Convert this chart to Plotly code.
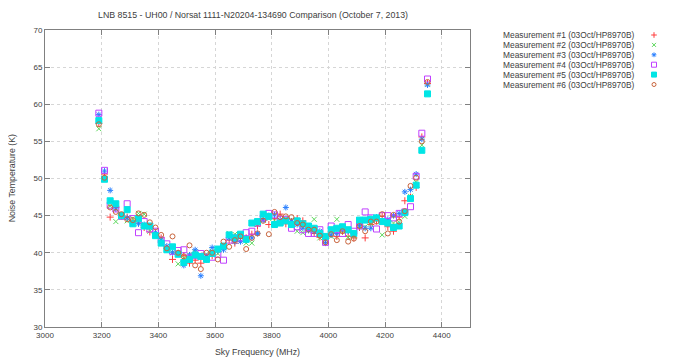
import plotly.graph_objects as go

freq_mhz = [3190, 3210, 3230, 3250, 3270, 3290, 3310, 3330, 3350, 3370,
            3390, 3410, 3430, 3450, 3470, 3490, 3510, 3530, 3550, 3570,
            3590, 3610, 3630, 3650, 3670, 3690, 3710, 3730, 3750, 3770,
            3790, 3810, 3830, 3850, 3870, 3890, 3910, 3930, 3950, 3970,
            3990, 4010, 4030, 4050, 4070, 4090, 4110, 4130, 4150, 4170,
            4190, 4210, 4230, 4250, 4270, 4290, 4310, 4330, 4350]

meas1 = [57.4, 50.6, 44.8, 46.1, 45.0, 44.8, 44.3, 44.0, 43.4, 42.8,
         42.7, 42.0, 40.6, 39.1, 39.9, 39.6, 38.6, 39.0, 38.6, 39.1,
         39.6, 40.2, 40.8, 41.7, 41.3, 41.9, 42.0, 42.5, 43.6, 44.6,
         43.8, 44.6, 45.2, 43.9, 44.2, 44.6, 44.3, 43.2, 42.6, 42.1,
         41.4, 42.8, 42.2, 42.9, 42.2, 42.0, 43.4, 42.0, 43.8, 44.3,
         44.9, 43.5, 42.9, 44.8, 47.0, 47.5, 48.8, 55.6, 62.8]
meas2 = [56.7, 50.0, 46.3, 44.2, 45.1, 44.3, 44.6, 45.3, 45.2, 42.9,
         42.4, 41.8, 40.6, 40.0, 38.5, 39.3, 39.7, 40.1, 39.4, 39.8,
         40.2, 39.9, 40.7, 42.6, 42.5, 42.2, 41.3, 41.3, 43.8, 44.4,
         44.6, 44.3, 44.4, 44.6, 44.4, 42.9, 42.7, 43.3, 44.5, 42.0,
         41.8, 42.2, 44.5, 42.9, 42.1, 42.2, 43.5, 43.5, 43.9, 44.5,
         42.4, 44.0, 44.0, 44.1, 44.9, 47.6, 49.5, 54.5, 62.7]
meas3 = [58.6, 51.0, 48.4, 45.9, 44.9, 44.7, 43.9, 43.9, 43.8, 43.5,
         42.7, 41.7, 40.9, 40.0, 40.0, 38.3, 39.7, 40.4, 36.9, 39.5,
         40.7, 40.3, 40.4, 42.0, 41.5, 41.5, 42.0, 42.0, 42.6, 44.4,
         45.0, 45.1, 44.4, 46.1, 44.2, 43.8, 43.3, 43.0, 42.9, 42.9,
         41.3, 42.4, 42.6, 43.2, 42.9, 42.5, 43.7, 43.3, 43.3, 44.8,
         44.3, 44.5, 45.0, 45.3, 48.2, 48.5, 50.6, 55.3, 62.6]
meas4 = [58.8, 51.1, 46.4, 45.9, 44.9, 46.6, 44.6, 42.7, 44.2, 43.2,
         42.9, 41.7, 41.2, 40.2, 40.3, 40.4, 39.3, 39.6, 39.9, 39.4,
         39.4, 39.8, 39.0, 41.7, 42.0, 42.0, 42.7, 42.9, 44.0, 44.7,
         45.3, 45.1, 44.5, 44.5, 43.3, 43.5, 43.1, 42.6, 42.6, 43.1,
         41.4, 43.6, 43.1, 42.6, 43.8, 42.9, 43.6, 45.5, 44.7, 43.2,
         45.0, 45.0, 44.7, 45.3, 45.5, 46.2, 50.3, 56.1, 63.4]
meas5 = [57.8, 49.9, 47.0, 46.6, 45.0, 45.8, 43.9, 44.6, 43.6, 43.6,
         42.3, 41.3, 40.4, 40.8, 39.8, 38.7, 39.1, 39.7, 39.5, 39.1,
         39.9, 40.5, 40.9, 42.4, 42.0, 42.5, 41.8, 44.0, 44.2, 45.2,
         44.9, 43.8, 44.0, 44.3, 43.8, 44.3, 43.9, 43.6, 43.3, 42.6,
         42.2, 43.1, 43.3, 43.5, 43.1, 42.6, 44.4, 44.4, 44.5, 44.7,
         44.2, 44.0, 43.4, 43.6, 45.4, 47.3, 49.1, 53.8, 61.4]
meas6 = [57.3, 50.1, 46.1, 45.5, 45.2, 44.5, 44.4, 45.3, 45.1, 44.1,
         43.4, 42.4, 40.6, 42.2, 40.0, 39.5, 41.0, 38.3, 37.8, 40.0,
         40.0, 39.1, 41.5, 40.8, 41.7, 42.2, 40.5, 42.0, 42.6, 44.3,
         42.5, 45.5, 44.8, 44.9, 44.8, 44.0, 43.8, 43.1, 43.1, 42.3,
         41.4, 42.5, 41.7, 42.9, 41.5, 41.9, 43.6, 42.9, 44.2, 44.2,
         45.2, 42.6, 45.1, 44.2, 45.6, 49.0, 50.1, 55.0, 63.0]

series_names = ["Measurement #1 (03Oct/HP8970B)",
                "Measurement #2 (03Oct/HP8970B)",
                "Measurement #3 (03Oct/HP8970B)",
                "Measurement #4 (03Oct/HP8970B)",
                "Measurement #5 (03Oct/HP8970B)",
                "Measurement #6 (03Oct/HP8970B)"]
series_values = [meas1, meas2, meas3, meas4, meas5, meas6]

x_ticks = [3000, 3200, 3400, 3600, 3800, 4000, 4200, 4400]
y_ticks = [30, 35, 40, 45, 50, 55, 60, 65, 70]

colors = ["#ff3c3c", "#5cd85c", "#2a80ff", "#c040ff", "#00e5e5", "#c8643c"]
symbols = ["cross-thin-open", "x-thin-open", "asterisk-open",
           "square-open", "square", "circle-open"]
sizes = [5, 5, 5, 6, 6, 5]

fig = go.Figure()
for name, vals, col, sym, sz in zip(series_names, series_values, colors, symbols, sizes):
    fig.add_trace(go.Scatter(
        x=freq_mhz, y=vals, mode="markers", name=name, showlegend=False,
        marker=dict(symbol=sym, size=sz, color=col, line=dict(color=col, width=1)),
        xaxis="x", yaxis="y"))

# Custom gnuplot-style legend (text then marker), drawn on a pixel-mapped helper axis
# (the page body has an 8 px margin, so helper coordinates are page pixels)
legend_text_x = 636
legend_mark_x = 654
legend_y0 = 35
legend_dy = 9.9
annotations = []
for i, (name, col, sym, sz) in enumerate(zip(series_names, colors, symbols, sizes)):
    yy = legend_y0 + i * legend_dy
    fig.add_trace(go.Scatter(
        x=[legend_mark_x], y=[yy], mode="markers", showlegend=False, hoverinfo="skip",
        marker=dict(symbol=sym, size=sz - 1, color=col, line=dict(color=col, width=1)),
        xaxis="x2", yaxis="y2"))
    annotations.append(dict(x=legend_text_x, y=yy, xref="x2", yref="y2", text=name,
                            showarrow=False, xanchor="right", yanchor="middle",
                            font=dict(size=8.4, color="#404040")))

font_family = "Liberation Sans, Arial, sans-serif"
annotations += [
    dict(text="LNB 8515 - UH00 / Norsat 1111-N20204-134690 Comparison (October 7, 2013)",
         x=0.49, y=1.05, xref="x domain", yref="paper", showarrow=False,
         xanchor="center", yanchor="middle", font=dict(size=8.8, color="#404040")),
    dict(text="Sky Frequency (MHz)", x=0.5, y=-0.084, xref="x domain", yref="paper",
         showarrow=False, xanchor="center", yanchor="middle",
         font=dict(size=8.8, color="#404040")),
    dict(text="Noise Temperature (K)", x=-0.078, y=0.5, xref="x domain", yref="paper",
         showarrow=False, xanchor="center", yanchor="middle", textangle=-90,
         font=dict(size=8.8, color="#404040")),
]

axis_common = dict(showline=True, linecolor="#808080", linewidth=1, mirror="allticks",
                   ticks="inside", ticklen=5, tickcolor="#808080", automargin=False,
                   showgrid=True, gridcolor="#d6d6d6", griddash="dot", gridwidth=1,
                   zeroline=False, tickfont=dict(size=8, color="#404040"))

fig.update_layout(
    width=670, height=352,
    margin=dict(l=37, r=8, t=22, b=33, autoexpand=False),
    paper_bgcolor="white", plot_bgcolor="white",
    font=dict(family=font_family, color="#404040"),
    xaxis=dict(domain=[0, 0.68], range=[3000, 4500], tickvals=x_ticks,
               ticktext=[str(v) for v in x_ticks], anchor="y", **axis_common),
    yaxis=dict(domain=[0, 1], range=[30, 70], tickvals=y_ticks,
               ticktext=[str(v) for v in y_ticks], anchor="x", **axis_common),
    xaxis2=dict(domain=[0.7, 1.0], range=[482.5, 670], visible=False, anchor="y2"),
    yaxis2=dict(domain=[0, 1], range=[327, 30], visible=False, anchor="x2"),
    annotations=annotations,
    showlegend=False,
)

fig.write_html("out.html")
